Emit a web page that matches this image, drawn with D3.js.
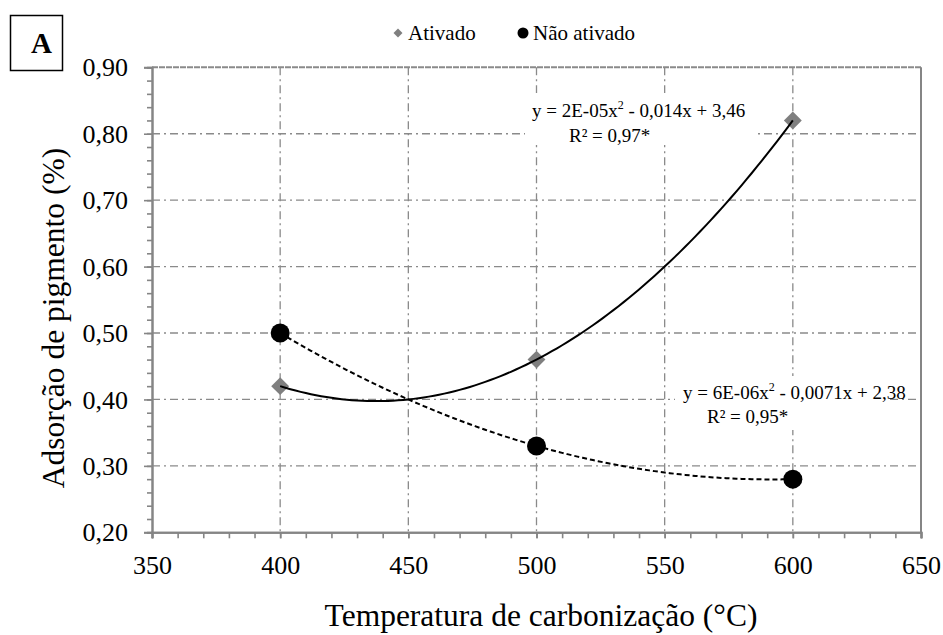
<!DOCTYPE html>
<html><head><meta charset="utf-8">
<script src="https://cdn.jsdelivr.net/npm/d3@7"></script>
<style>body{margin:0;background:#fff}svg{display:block}text{font-family:"Liberation Serif","Times New Roman",serif}</style>
</head><body>
<svg id="c" width="943" height="635"></svg>
<script>
const temps = [400, 500, 600];
const ativado = [0.42, 0.46, 0.82];
const naoAtivado = [0.50, 0.33, 0.28];
const xTicks = [350, 400, 450, 500, 550, 600, 650];
const yTicks = [0.20, 0.30, 0.40, 0.50, 0.60, 0.70, 0.80, 0.90];
const seriesNames = ["Ativado", "Não ativado"];
const eqAtivado = ["y = 2E-05x", "2", " - 0,014x + 3,46", "R² = 0,97*"];
const eqNao = ["y = 6E-06x", "2", " - 0,0071x + 2,38", "R² = 0,95*"];
const xTitle = "Temperatura de carbonização (°C)";
const yTitle = "Adsorção de pigmento (%)";
const panelLabel = "A";

const svg = d3.select("#c");
const L = 152, R = 921, T = 67.3, B = 532.3;
const x = d3.scaleLinear().domain([350, 650]).range([L, R]);
const y = d3.scaleLinear().domain([0.20, 0.90]).range([B, T]);
const gridCol = "#8a8a8a", axisCol = "#858585";
const fmt = v => d3.format(".2f")(v).replace(".", ",");

// least-squares quadratic fit (Excel polynomial trendline, order 2)
function polyfit2(xs, ys) {
  const n = xs.length; let S = Array.from({length:3},()=>[0,0,0,0]);
  for (let i=0;i<n;i++){ const p=[1,xs[i],xs[i]*xs[i]];
    for(let r=0;r<3;r++){ for(let c=0;c<3;c++) S[r][c]+=p[r]*p[c]; S[r][3]+=p[r]*ys[i]; } }
  for(let i=0;i<3;i++){ let m=i; for(let k=i+1;k<3;k++) if(Math.abs(S[k][i])>Math.abs(S[m][i])) m=k;
    [S[i],S[m]]=[S[m],S[i]];
    for(let k=0;k<3;k++){ if(k===i) continue; const f=S[k][i]/S[i][i]; for(let c=i;c<4;c++) S[k][c]-=f*S[i][c]; } }
  return [S[0][3]/S[0][0], S[1][3]/S[1][1], S[2][3]/S[2][2]];
}

// grid
const g = svg.append("g");
g.selectAll(".vg").data(xTicks.filter(t => t > 350 && t < 650)).join("line")
  .attr("x1", d => x(d)).attr("x2", d => x(d)).attr("y1", T).attr("y2", B)
  .attr("stroke", gridCol).attr("stroke-width", 1.3).attr("stroke-dasharray", "8,4,2,4");
g.selectAll(".hg").data(yTicks.filter(t => t > 0.21 && t < 0.89)).join("line")
  .attr("y1", d => y(d)).attr("y2", d => y(d)).attr("x1", L).attr("x2", R)
  .attr("stroke", gridCol).attr("stroke-width", 1.3).attr("stroke-dasharray", "8,4,2,4");
svg.append("line").attr("x1", L).attr("x2", R).attr("y1", y(0.90)).attr("y2", y(0.90))
  .attr("stroke", gridCol).attr("stroke-width", 2).attr("stroke-dasharray", "6,1");
svg.append("line").attr("x1", R).attr("x2", R).attr("y1", T).attr("y2", B)
  .attr("stroke", axisCol).attr("stroke-width", 2);

// axes
const yAxis = svg.append("g").attr("transform", `translate(${L},0)`)
  .call(d3.axisLeft(y).tickValues(d3.range(0.20, 0.9001, 0.02)).tickSize(5).tickFormat(""));
const xAxis = svg.append("g").attr("transform", `translate(0,${B})`)
  .call(d3.axisBottom(x).tickValues(d3.range(350, 651, 10)).tickSize(6).tickFormat(""));
const yMajor = svg.append("g").attr("transform", `translate(${L},0)`)
  .call(d3.axisLeft(y).tickValues(yTicks).tickSize(8).tickPadding(16).tickFormat(fmt));
const xMajor = svg.append("g").attr("transform", `translate(0,${B})`)
  .call(d3.axisBottom(x).tickValues(xTicks).tickSize(6).tickPadding(17).tickFormat(d3.format("d")));
[yAxis, xAxis, yMajor, xMajor].forEach(a => {
  a.attr("font-family", null);
  a.select(".domain").attr("stroke", axisCol).attr("stroke-width", 2);
  a.selectAll(".tick line").attr("stroke", axisCol).attr("stroke-width", 1.6);
  a.selectAll("text").attr("font-size", 26).attr("fill", "#000");
});
yMajor.selectAll("text").attr("dy", "0.33em");

// markers
svg.selectAll(".dia").data(temps.map((t, i) => [t, ativado[i]])).join("path")
  .attr("d", d3.symbol().type(d3.symbolSquare).size(160))
  .attr("transform", d => `translate(${x(d[0])},${y(d[1])}) rotate(45)`)
  .attr("fill", "#7f7f7f");
svg.selectAll(".cir").data(temps.map((t, i) => [t, naoAtivado[i]])).join("circle")
  .attr("cx", d => x(d[0])).attr("cy", d => y(d[1])).attr("r", 9.5).attr("fill", "#000");

// trendlines
function trend(vals, dash) {
  const c = polyfit2(temps, vals);
  const pts = d3.range(400, 600.01, 2).map(t => [t, c[0] + c[1] * t + c[2] * t * t]);
  svg.append("path").datum(pts)
    .attr("d", d3.line().x(d => x(d[0])).y(d => y(d[1])))
    .attr("fill", "none").attr("stroke", "#000").attr("stroke-width", 2)
    .attr("stroke-dasharray", dash);
}
trend(ativado, null);
trend(naoAtivado, "5,3");

// equation labels
function eqLabel(eq, bx, by, bw, bh, x1, y1, x2, y2) {
  svg.append("rect").attr("x", bx).attr("y", by).attr("width", bw).attr("height", bh).attr("fill", "#fff");
  const t = svg.append("text").attr("x", x1).attr("y", y1).attr("font-size", 19);
  t.append("tspan").text(eq[0]);
  t.append("tspan").attr("font-size", 12).attr("dy", -8).text(eq[1]);
  t.append("tspan").attr("dy", 8).text(eq[2]);
  svg.append("text").attr("x", x2).attr("y", y2).attr("font-size", 19).text(eq[3]);
}
eqLabel(eqAtivado, 525, 93, 232, 52, 532, 117, 569, 142);
eqLabel(eqNao, 675, 376, 212, 54, 683, 399, 707, 423);

// legend
svg.append("path").attr("d", d3.symbol().type(d3.symbolSquare).size(40))
  .attr("transform", "translate(398,33) rotate(45)").attr("fill", "#7f7f7f");
svg.append("text").attr("x", 408).attr("y", 40).attr("font-size", 21).text(seriesNames[0]);
svg.append("circle").attr("cx", 523).attr("cy", 33).attr("r", 5.5).attr("fill", "#000");
svg.append("text").attr("x", 533).attr("y", 40).attr("font-size", 21).text(seriesNames[1]);

// axis titles
svg.append("text").attr("x", 541).attr("y", 626).attr("text-anchor", "middle")
  .attr("font-size", 31.5).text(xTitle);
svg.append("text").attr("transform", `translate(64,318) rotate(-90)`)
  .attr("text-anchor", "middle").attr("font-size", 31.5).text(yTitle);

// panel label
svg.append("rect").attr("x", 10.5).attr("y", 15.5).attr("width", 52).attr("height", 55)
  .attr("fill", "none").attr("stroke", "#000").attr("stroke-width", 1.5);
svg.append("text").attr("x", 41.5).attr("y", 53).attr("text-anchor", "middle")
  .attr("font-size", 29).attr("font-weight", "bold").text(panelLabel);
</script>
</body></html>
